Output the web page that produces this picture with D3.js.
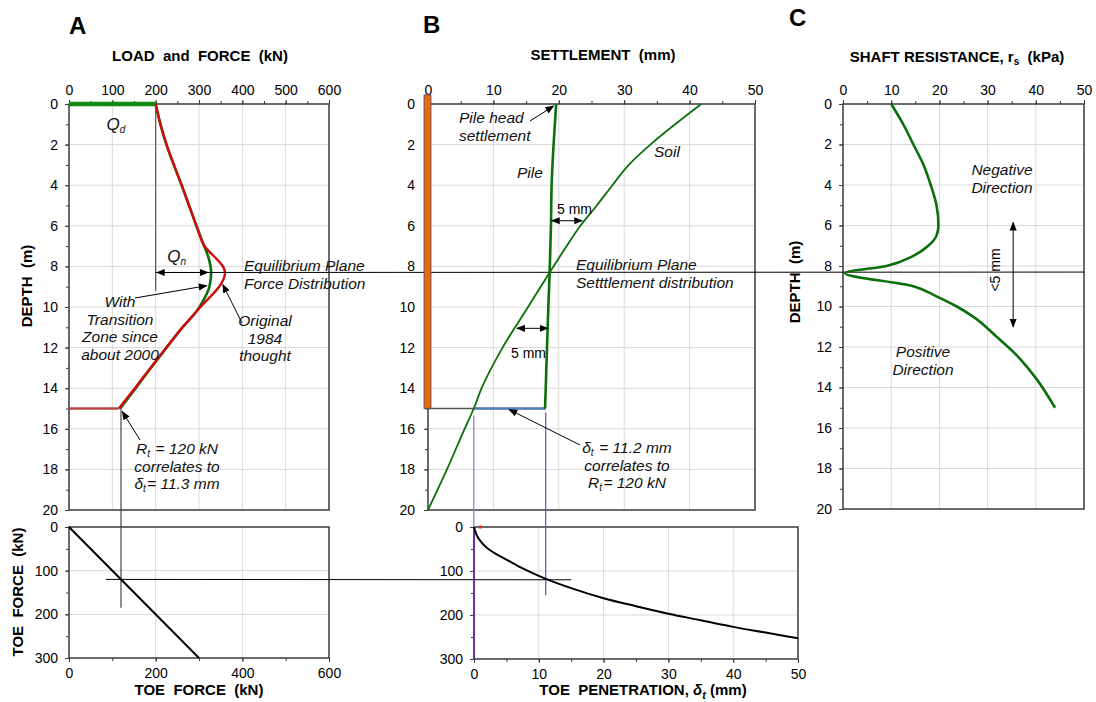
<!DOCTYPE html>
<html>
<head>
<meta charset="utf-8">
<script src="https://cdn.jsdelivr.net/npm/d3@7"></script>
<style>
	body { margin: 0; background: #fff; }
	svg { font-family: "Liberation Sans", Arial, sans-serif; }
	.tick text { font-size: 14px; fill: #000; }
	.note { font-size: 15.5px; font-style: italic; fill: #111; }
	.title { font-weight: bold; white-space: pre; }
</style>
</head>
<body>
<svg id="chart" width="1096" height="702"></svg>
<script>
const EP_DEPTH = 8.3;
const PILE_TOE = 15;

// panel A : load and force
const qdForce = [0, 200];
const originalDepth = [0, 1, 2, 3, 4, 5, 6, 6.9, 8.3, 10.2, 11, 12, 13, 14, 15];
const originalForce = [200, 211, 225, 242, 260, 277, 294, 310, 360, 295, 262, 225, 188, 152, 115];
const transitionDepth = [0, 1, 2, 3, 4, 5, 6, 6.9, 7.5, 8.3, 9, 9.6, 10.2, 11, 12, 13, 14, 15];
const transitionForce = [200, 211, 225, 242, 260, 277, 294, 310, 321, 328, 324, 312, 295, 262, 225, 189, 154, 118];
const toeLineForce = [0, 300];
const toeLinePen = [0, 300];

// panel B : settlement
const pileDepth = [0, 2, 4, 6, 8.3, 10, 12, 15];
const pileSettlement = [19.6, 19.2, 18.9, 18.8, 18.6, 18.4, 18.2, 17.9];
const soilDepth = [0, 1, 2, 3, 4, 5, 6, 7, 8.3, 10, 12, 14, 15, 16, 18, 20];
const soilSettlement = [41.8, 37.8, 34, 30.7, 28.2, 25.8, 23.3, 21.2, 18.6, 15.3, 11.4, 8.2, 7, 5.6, 2.9, 0];
const toePenetration = [0, 0.4, 1, 1.8, 2.6, 3.5, 5, 7.5, 10, 11.3, 15, 20, 25, 30, 35, 40, 45, 50];
const toeForce = [0, 18, 32, 45, 54, 62, 74, 94, 111, 119, 139, 162, 180, 197, 212, 227, 240, 253];

// panel C : shaft resistance
const shaftDepth = [0, 1, 2, 3, 4, 5, 6, 6.5, 7, 7.5, 8, 8.35, 9, 9.5, 10, 10.5, 11.5, 12.4, 13.6, 15];
const shaftResistance = [10, 12.5, 14.6, 16.7, 18.2, 19.4, 19.8, 19.4, 17.7, 14.6, 9, 0.4, 14.6, 19.4, 23.6, 27, 31.9, 36, 40.2, 44];

const depthTicks = d3.range(0, 21, 2);
const depthMinor = d3.range(0, 21, 1);

const RED = "#d00c0c";
const GREEN = "#0b700b";
const GRID = "#d9d9d9";
const AXIS = "#3a3a3a";

const svg = d3.select("#chart");

const defs = svg.append("defs");
defs.append("marker")
	.attr("id", "arrow")
	.attr("viewBox", "0 0 10 10")
	.attr("refX", 9).attr("refY", 5)
	.attr("markerUnits", "userSpaceOnUse")
	.attr("markerWidth", 9).attr("markerHeight", 9)
	.attr("orient", "auto-start-reverse")
	.append("path")
	.attr("d", "M0,1 L10,5 L0,9 z")
	.attr("fill", "#000");

/**
 * draws grid, frame and axes of one plot area
 */
const buildFrame = (x, y, opt) => {
	let g = svg.append("g");
	let [x0, x1] = x.range();
	let [y0, y1] = y.range();

	g.append("g").selectAll("line")
		.data(opt.xTicks.filter((d) => d !== x.domain()[0] && d !== x.domain()[1]))
		.enter().append("line")
		.attr("x1", (d) => x(d)).attr("x2", (d) => x(d))
		.attr("y1", y0).attr("y2", y1)
		.attr("stroke", GRID);

	g.append("g").selectAll("line")
		.data(opt.yTicks.filter((d) => d !== y.domain()[0] && d !== y.domain()[1]))
		.enter().append("line")
		.attr("y1", (d) => y(d)).attr("y2", (d) => y(d))
		.attr("x1", x0).attr("x2", x1)
		.attr("stroke", GRID);

	g.append("rect")
		.attr("x", x0).attr("y", y0)
		.attr("width", x1 - x0).attr("height", y1 - y0)
		.attr("fill", "none")
		.attr("stroke", AXIS)
		.attr("stroke-width", 1.5);

	let xAxis = opt.xTop ? d3.axisTop(x) : d3.axisBottom(x);
	let xPos = opt.xTop ? y0 : y1;
	g.append("g")
		.attr("transform", "translate(0," + xPos + ")")
		.call(xAxis.tickValues(opt.xMinor).tickSize(3).tickFormat(""))
		.call((s) => s.select(".domain").remove());
	g.append("g")
		.attr("transform", "translate(0," + xPos + ")")
		.call((opt.xTop ? d3.axisTop(x) : d3.axisBottom(x))
			.tickValues(opt.xTicks).tickSize(4).tickPadding(opt.xTop ? 5 : 6))
		.call((s) => s.select(".domain").remove());

	g.append("g")
		.attr("transform", "translate(" + x0 + ",0)")
		.call(d3.axisLeft(y).tickValues(opt.yMinor).tickSize(3).tickFormat(""))
		.call((s) => s.select(".domain").remove());
	g.append("g")
		.attr("transform", "translate(" + x0 + ",0)")
		.call(d3.axisLeft(y).tickValues(opt.yTicks).tickSize(4).tickPadding(opt.yPad || 7))
		.call((s) => s.select(".domain").remove());

	g.selectAll(".tick line").attr("stroke", AXIS);
	return g;
};

const curve = (xs, ys, x, y, kind) => d3.line()
	.curve(kind || d3.curveLinear)
	.x((d, i) => x(xs[i]))
	.y((d, i) => y(ys[i]))(ys);

const note = (x, y, lines, anchor) => {
	let t = svg.append("text")
		.attr("class", "note")
		.attr("text-anchor", anchor || "middle");
	lines.forEach((l, i) => {
		t.append("tspan").attr("x", x).attr("y", y + i * 17.5).html(l);
	});
	return t;
};

const arrowLine = (xa, ya, xb, yb, both) => svg.append("line")
	.attr("x1", xa).attr("y1", ya).attr("x2", xb).attr("y2", yb)
	.attr("stroke", "#000").attr("stroke-width", 1)
	.attr("marker-end", "url(#arrow)")
	.attr("marker-start", both ? "url(#arrow)" : null);

const plainLine = (xa, ya, xb, yb, color, w) => svg.append("line")
	.attr("x1", xa).attr("y1", ya).attr("x2", xb).attr("y2", yb)
	.attr("stroke", color || "#000").attr("stroke-width", w || 1);

const sub = (s) => "<tspan dy='3' font-size='10'>" + s + "</tspan><tspan dy='-3'>\u200a</tspan>";

// ---------- scales
const xA = d3.scaleLinear().domain([0, 600]).range([69, 329]);
const yA = d3.scaleLinear().domain([0, 20]).range([104, 510]);
const yAToe = d3.scaleLinear().domain([0, 300]).range([527, 658]);
const xB = d3.scaleLinear().domain([0, 50]).range([428, 755]);
const yB = d3.scaleLinear().domain([0, 20]).range([104, 510]);
const xBToe = d3.scaleLinear().domain([0, 50]).range([474, 798]);
const yBToe = d3.scaleLinear().domain([0, 300]).range([527, 659]);
const xC = d3.scaleLinear().domain([0, 50]).range([843, 1084]);
const yC = d3.scaleLinear().domain([0, 20]).range([104, 509]);

// ---------- frames
buildFrame(xA, yA, { xTop: true, xTicks: d3.range(0, 601, 100), xMinor: d3.range(0, 601, 50), yTicks: depthTicks, yMinor: depthMinor, yPad: 7 });
buildFrame(xA, yAToe, { xTicks: [0, 200, 400, 600], xMinor: d3.range(0, 601, 100), yTicks: [0, 100, 200, 300], yMinor: d3.range(0, 301, 50) });
buildFrame(xB, yB, { xTop: true, xTicks: d3.range(0, 51, 10), xMinor: d3.range(0, 51, 5), yTicks: depthTicks, yMinor: depthMinor, yPad: 9 });
buildFrame(xBToe, yBToe, { xTicks: d3.range(0, 51, 10), xMinor: d3.range(0, 51, 5), yTicks: [0, 100, 200, 300], yMinor: d3.range(0, 301, 50) });
buildFrame(xC, yC, { xTop: true, xTicks: d3.range(0, 51, 10), xMinor: d3.range(0, 51, 5), yTicks: depthTicks, yMinor: depthMinor, yPad: 7 });

// ---------- titles
const bold = (x, y, txt, size, rot) => svg.append("text")
	.attr("class", "title")
	.attr("text-anchor", "middle")
	.attr("font-size", size || 15)
	.attr("transform", "translate(" + x + "," + y + ")" + (rot ? " rotate(-90)" : ""))
	.html(txt);

svg.append("text").attr("x", 69).attr("y", 34).attr("font-size", 24).attr("font-weight", "bold").text("A");
svg.append("text").attr("x", 423).attr("y", 33).attr("font-size", 24).attr("font-weight", "bold").text("B");
svg.append("text").attr("x", 789).attr("y", 26).attr("font-size", 24).attr("font-weight", "bold").text("C");

bold(200, 61, "LOAD  and  FORCE  (kN)");
bold(603, 60, "SETTLEMENT  (mm)");
bold(957, 62, "SHAFT RESISTANCE, r<tspan dy='3' font-size='10'>s</tspan><tspan dy='-3'>  (kPa)</tspan>");
bold(32, 286, "DEPTH  (m)", 15, true);
bold(800, 282, "DEPTH  (m)", 15, true);
bold(23, 592, "TOE  FORCE  (kN)", 15, true);
bold(199, 695, "TOE  FORCE  (kN)", 15);
bold(643, 695, "TOE  PENETRATION, <tspan font-style='italic'>δ</tspan><tspan dy='4' font-size='11' font-style='italic'>t</tspan><tspan dy='-4'> (mm)</tspan>", 15);

// ---------- panel A marks
plainLine(xA(200), yA(0), xA(200), yA(9.2), "#555", 1.2);
plainLine(xA(qdForce[0]), yA(0), xA(qdForce[1]), yA(0), "#0f8a0f", 4.5);

svg.append("path")
	.attr("d", curve(transitionForce, transitionDepth, xA, yA, d3.curveMonotoneY))
	.attr("fill", "none").attr("stroke", GREEN).attr("stroke-width", 2.6);
svg.append("path")
	.attr("d", curve(originalForce, originalDepth, xA, yA, d3.curveMonotoneY))
	.attr("fill", "none").attr("stroke", RED).attr("stroke-width", 2.4);
plainLine(xA(0), yA(PILE_TOE), xA(115), yA(PILE_TOE), "#b84444", 2.4);

// equilibrium plane line through all three panels
plainLine(xA(200), yA(EP_DEPTH), xC(50), yC(EP_DEPTH), "#000", 1);
arrowLine(xA(200) + 1, yA(EP_DEPTH), xA(321), yA(EP_DEPTH), true);

// toe force link lines
plainLine(xA(120), yA(PILE_TOE), xA(120), yAToe(185), "#444", 1.2);
plainLine(xA(85), yAToe(120), xBToe(15), yBToe(120), "#000", 1);

svg.append("path")
	.attr("d", curve(toeLinePen, toeLineForce, xA, yAToe))
	.attr("fill", "none").attr("stroke", "#000").attr("stroke-width", 2);

note(xA(105) + 2, yA(1.3), ["Q" + sub("d")]).style("font-size", "17px");
note(xA(250), yA(8.3) - 10, ["Q" + sub("n")]).style("font-size", "17px");
note(244, 271, ["Equilibrium Plane", "Force Distribution"], "start");
note(120, 307, ["With", "Transition", "Zone since", "about 2000"]);
note(265, 326, ["Original", "1984", "thought"]);
note(177, 454, ["R" + sub("t") + " = 120 kN", "correlates to", "δ" + sub("t") + "= 11.3 mm"]);
arrowLine(135, 298, xA(318), yA(8.95));
arrowLine(242, 323, xA(355), yA(8.9));
arrowLine(140, 440, xA(123), yA(15.15));

// ---------- panel B marks
svg.append("rect")
	.attr("x", xB(0) - 4).attr("y", yB(-0.45))
	.attr("width", 7).attr("height", yB(PILE_TOE) - yB(-0.45))
	.attr("fill", "#e36c0a").attr("stroke", "#5b3f7a").attr("stroke-width", 0.8);

plainLine(xB(0), yB(PILE_TOE), xB(18), yB(PILE_TOE), "#555", 1.5);
plainLine(xB(7), yB(PILE_TOE), xB(18), yB(PILE_TOE), "#4f7fb8", 2.6);

svg.append("path")
	.attr("d", curve(soilSettlement, soilDepth, xB, yB, d3.curveMonotoneY))
	.attr("fill", "none").attr("stroke", GREEN).attr("stroke-width", 1.8);
svg.append("path")
	.attr("d", curve(pileSettlement, pileDepth, xB, yB, d3.curveMonotoneY))
	.attr("fill", "none").attr("stroke", GREEN).attr("stroke-width", 2.6);

// purple correlation lines
plainLine(xB(7), yB(15.35), xB(7), yBToe(0), "#a070d0", 1.2);
plainLine(xB(18), yB(15.2), xB(18), yBToe(155), "#8040b0", 1.2);
plainLine(xBToe(0), yBToe(0), xBToe(0), yBToe(300), "#7030a0", 2);

svg.append("path")
	.attr("d", curve(toePenetration, toeForce, xBToe, yBToe, d3.curveMonotoneX))
	.attr("fill", "none").attr("stroke", "#000").attr("stroke-width", 2);
svg.append("rect")
	.attr("x", xBToe(1) - 1.5).attr("y", yBToe(0) - 1.5)
	.attr("width", 3).attr("height", 3).attr("fill", "#ff2020");

note(459, 123, ["Pile head", "settlement"], "start");
arrowLine(530, 121, xB(19.2), yB(0.1));
note(654, 157, ["Soil"], "start");
note(517, 178, ["Pile"], "start");
arrowLine(xB(18.9), yB(5.75), xB(23.6), yB(5.75), true);
svg.append("text").attr("x", 557).attr("y", 214).attr("font-size", 14).text("5 mm");
arrowLine(xB(13.6), yB(11.05), xB(18.3), yB(11.05), true);
svg.append("text").attr("x", 511).attr("y", 358).attr("font-size", 14).text("5 mm");
note(576, 270, ["Equilibrium Plane", "Setttlement distribution"], "start");
note(627, 453, ["δ" + sub("t") + " = 11.2 mm", "correlates to", "R" + sub("t") + "= 120 kN"]);
arrowLine(580, 445, xB(12.4), yB(15.05));

// ---------- panel C marks
svg.append("path")
	.attr("d", curve(shaftResistance, shaftDepth, xC, yC, d3.curveMonotoneY))
	.attr("fill", "none").attr("stroke", GREEN).attr("stroke-width", 2.6);

note(1002, 175, ["Negative", "Direction"]);
note(923, 357, ["Positive", "Direction"]);
arrowLine(xC(35.3), yC(5.85), xC(35.3), yC(11.0), true);
svg.append("text")
	.attr("transform", "translate(1000,270) rotate(-90)")
	.attr("text-anchor", "middle")
	.attr("font-size", 14)
	.text("<5 mm");
</script>
</body>
</html>
